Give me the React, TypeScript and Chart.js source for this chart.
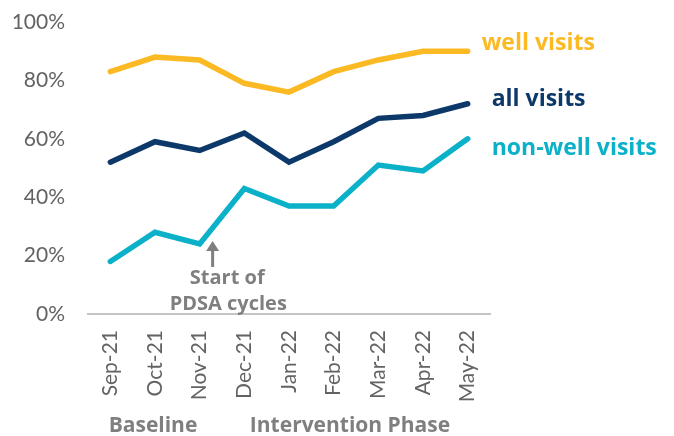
import React, { useEffect, useRef } from "react";
import { Chart, registerables } from "chart.js";

Chart.register(...registerables);

const months = ["Sep-21", "Oct-21", "Nov-21", "Dec-21", "Jan-22", "Feb-22", "Mar-22", "Apr-22", "May-22"];
const wellVisits = [83, 88, 87, 79, 76, 83, 87, 90, 90];
const allVisits = [52, 59, 56, 62, 52, 59, 67, 68, 72];
const nonWellVisits = [18, 28, 24, 43, 37, 37, 51, 49, 60];
const yTicks = [0, 20, 40, 60, 80, 100];

const seriesNames = ["well visits", "all visits", "non-well visits"];
const colors = ["#FBB923", "#0D386A", "#0BB0C9"];
const labelOffsets = [
  { dx: 14, dy: -8 },
  { dx: 24, dy: -4 },
  { dx: 24, dy: 10 },
];

const gray = "#7F7F7F";

const annotationPlugin = {
  id: "annotations",
  afterDatasetsDraw(chart: any) {
    const ctx = chart.ctx;
    const xs = chart.scales.x;
    ctx.save();
    // series labels
    ctx.font = "bold 23px 'Open Sans'";
    ctx.textBaseline = "middle";
    ctx.textAlign = "left";
    chart.data.datasets.forEach((ds: any, i: number) => {
      const meta = chart.getDatasetMeta(i);
      const last = meta.data[meta.data.length - 1];
      ctx.fillStyle = colors[i];
      ctx.fillText(seriesNames[i], last.x + labelOffsets[i].dx, last.y + labelOffsets[i].dy);
    });
    // start of PDSA arrow
    const novX = xs.getPixelForValue(2);
    const decX = xs.getPixelForValue(3);
    const ax = novX + (decX - novX) * 0.29;
    ctx.strokeStyle = gray;
    ctx.fillStyle = gray;
    ctx.lineWidth = 3;
    ctx.beginPath();
    ctx.moveTo(ax, 267);
    ctx.lineTo(ax, 250);
    ctx.stroke();
    ctx.beginPath();
    ctx.moveTo(ax, 241);
    ctx.lineTo(ax - 6.5, 251);
    ctx.lineTo(ax + 6.5, 251);
    ctx.closePath();
    ctx.fill();
    ctx.font = "bold 20px 'Open Sans'";
    ctx.textAlign = "center";
    const tx = novX + (decX - novX) * 0.64;
    ctx.fillText("Start of", tx - 1, 278);
    ctx.fillText("PDSA cycles", tx, 304);
    // phase labels
    ctx.font = "bold 21px 'Open Sans'";
    ctx.fillText("Baseline", xs.getPixelForValue(1) - 2, 426);
    ctx.fillText("Intervention Phase", (xs.getPixelForValue(5) + xs.getPixelForValue(6)) / 2 - 6, 426);
    ctx.restore();
  },
};

export default function App() {
  const ref = useRef<HTMLCanvasElement>(null);
  useEffect(() => {
    if (!ref.current) return;
    const mk = (label: string, data: number[], color: string) => ({
      label,
      data,
      borderColor: color,
      backgroundColor: color,
      borderWidth: 5.5,
      pointRadius: 0,
      tension: 0,
      borderCapStyle: "round" as const,
      borderJoinStyle: "miter" as const,
    });
    const chart = new Chart(ref.current, {
      type: "line",
      data: {
        labels: months,
        datasets: [
          mk(seriesNames[0], wellVisits, colors[0]),
          mk(seriesNames[1], allVisits, colors[1]),
          mk(seriesNames[2], nonWellVisits, colors[2]),
        ],
      },
      options: {
        animation: false,
        responsive: false,
        layout: { padding: { top: 22, right: 184, bottom: 0, left: 0 } },
        plugins: { legend: { display: false }, tooltip: { enabled: false } },
        scales: {
          x: {
            offset: true,
            grid: { display: false, drawTicks: false },
            border: { display: true, color: "#C4C4C4", width: 2 },
            ticks: {
              color: "#636363",
              font: { family: "Lato", size: 21 },
              maxRotation: 90,
              minRotation: 90,
              padding: 16,
              autoSkip: false,
            },
            afterFit: (s: any) => {
              s.height = 122;
            },
          },
          y: {
            min: 0,
            max: 100,
            afterBuildTicks: (s: any) => {
              s.ticks = yTicks.map((v) => ({ value: v }));
            },
            grid: { display: false, drawTicks: false },
            border: { display: false },
            ticks: {
              color: "#636363",
              font: { family: "Lato", size: 21 },
              padding: 23,
              callback: (v: any) => v + "%",
            },
            afterFit: (s: any) => {
              s.width = 88;
              s.paddingTop = 0;
              s.paddingBottom = 0;
            },
          },
        },
      },
      plugins: [annotationPlugin],
    });
    return () => chart.destroy();
  }, []);
  return (
    <div style={{ position: "absolute", left: 0, top: 0, width: 674, height: 436, background: "#fff" }}>
      <canvas ref={ref} width={674} height={436} />
    </div>
  );
}
